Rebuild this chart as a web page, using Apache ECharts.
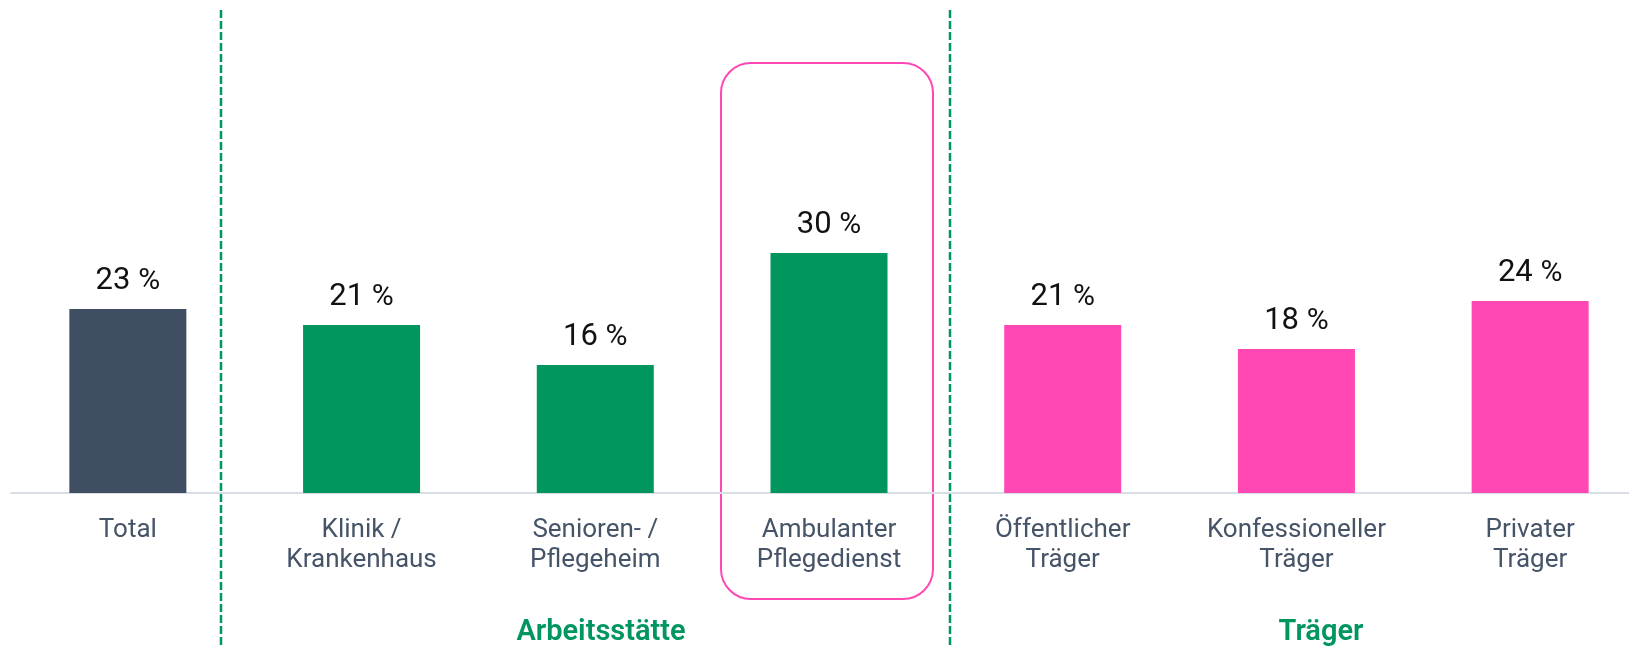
<!DOCTYPE html>
<html>
<head>
<meta charset="utf-8">
<script src="https://cdn.jsdelivr.net/npm/echarts@6/dist/echarts.min.js"></script>
<style>
  html, body { margin: 0; padding: 0; background: #fff; }
  #chart { width: 1629px; height: 648px; }
</style>
</head>
<body>
<div id="chart"></div>
<script>
// Kategorien und Werte (in %)
const categories = ['Total', 'Klinik /\nKrankenhaus', 'Senioren- /\nPflegeheim', 'Ambulanter\nPflegedienst',
  'Öffentlicher\nTräger', 'Konfessioneller\nTräger', 'Privater\nTräger'];
const values = [23, 21, 16, 30, 21, 18, 24];
const groupOf = ['total', 'arbeit', 'arbeit', 'arbeit', 'traeger', 'traeger', 'traeger'];
const groupTitles = ['Arbeitsstätte', 'Träger'];

const colors = { total: '#3F4E63', arbeit: '#00965E', traeger: '#FF48B4' };
const FONT = 'Roboto, "Noto Sans", sans-serif';

let myChart = echarts.init(document.getElementById('chart'));

let option = {
  animation: false,
  textStyle: { fontFamily: FONT },
  grid: { left: 11, top: 13, width: 1636, height: 480, outerBoundsMode: 'none', containLabel: false },
  xAxis: {
    type: 'category',
    data: categories,
    axisLine: { lineStyle: { color: '#D9DEE6', width: 2 } },
    axisTick: { show: false },
    axisLabel: {
      interval: 0,
      margin: 22,
      fontSize: 26,
      lineHeight: 30,
      color: '#465468',
      fontFamily: FONT
    }
  },
  yAxis: {
    type: 'value',
    min: 0,
    max: 60,
    show: false
  },
  series: [{
    type: 'bar',
    barWidth: 117,
    data: values.map((v, i) => ({ value: v, itemStyle: { color: colors[groupOf[i]] } })),
    label: {
      show: true,
      position: 'top',
      distance: 12,
      formatter: p => '{n|' + p.value + ' }{p|%}',
      rich: {
        n: { fontSize: 31, color: '#111', fontFamily: FONT },
        p: { fontSize: 30, color: '#111', fontFamily: FONT }
      }
    }
  }],
  graphic: [
    // Trennlinien
    {
      type: 'line', shape: { x1: 221, y1: 10, x2: 221, y2: 648 },
      style: { stroke: '#00965E', lineWidth: 2.5, lineDash: [8, 3] }
    },
    {
      type: 'line', shape: { x1: 950, y1: 10, x2: 950, y2: 648 },
      style: { stroke: '#00965E', lineWidth: 2.5, lineDash: [8, 3] }
    },
    // Markierung Ambulanter Pflegedienst
    {
      type: 'rect', shape: { x: 721, y: 63, width: 212, height: 536, r: 30 },
      style: { fill: 'none', stroke: '#FF48B4', lineWidth: 2 }
    },
    // Gruppentitel
    {
      type: 'text', x: 601, y: 633,
      style: { text: groupTitles[0], fill: '#00965E', font: '600 29px ' + FONT, align: 'center', verticalAlign: 'middle' }
    },
    {
      type: 'text', x: 1321, y: 633,
      style: { text: groupTitles[1], fill: '#00965E', font: '600 29px ' + FONT, align: 'center', verticalAlign: 'middle' }
    }
  ]
};

myChart.setOption(option);
</script>
</body>
</html>
